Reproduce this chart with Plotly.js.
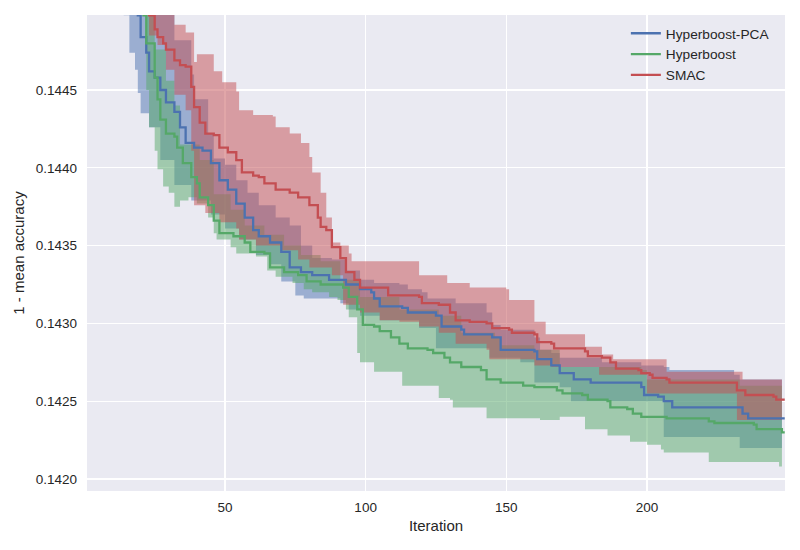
<!DOCTYPE html>
<html>
<head>
<meta charset="utf-8">
<script src="https://cdn.plot.ly/plotly-3.0.1.min.js"></script>
<style>html,body{margin:0;padding:0;background:#fff;}#chart{width:800px;height:550px;}</style>
</head>
<body>
<div id="chart"></div>
<script>
// ---- Mean curves (step-post) ----
const pcaX = [12,19,20,22,23,25,27,29,32,34,36,39,42,45,48,51,54,57,60,62,66,70,73,77,81,87,93,98,102,103,105,113,115,125,127,134,135,145,148,160,161,166,169,174,180,193,198,199,204,206,209,232,234,236,249];
const pcaY = [0.14530,0.14498,0.14484,0.14474,0.14462,0.14458,0.14450,0.14442,0.14436,0.14426,0.14416,0.14413,0.14411,0.14403,0.14392,0.14386,0.14377,0.14368,0.14360,0.14356,0.14352,0.14346,0.14336,0.14333,0.14331,0.14328,0.14325,0.14322,0.14320,0.14316,0.14311,0.14310,0.14307,0.14305,0.14298,0.14296,0.14293,0.14291,0.14283,0.14282,0.14277,0.14273,0.14268,0.14264,0.14262,0.14262,0.14259,0.14254,0.14253,0.14250,0.14246,0.14246,0.14242,0.14239,0.14239];

const hbX = [12,21,22,25,26,27,29,32,33,35,38,40,41,44,46,48,53,57,59,64,66,71,76,79,84,92,94,97,99,103,105,109,112,115,122,124,128,130,134,141,143,148,156,160,165,168,170,177,179,186,187,193,195,198,207,222,224,238,239,248,249];
const hbY = [0.14530,0.14498,0.14480,0.14458,0.14444,0.14431,0.14422,0.14420,0.14413,0.14403,0.14394,0.14390,0.14381,0.14376,0.14366,0.14358,0.14356,0.14352,0.14346,0.14345,0.14336,0.14333,0.14331,0.14327,0.14325,0.14323,0.14317,0.14309,0.14299,0.14298,0.14295,0.14291,0.14287,0.14284,0.14283,0.14281,0.14278,0.14275,0.14272,0.14270,0.14264,0.14262,0.14260,0.14259,0.14259,0.14257,0.14255,0.14254,0.14251,0.14250,0.14246,0.14245,0.14242,0.14240,0.14239,0.14237,0.14236,0.14235,0.14232,0.14230,0.14230];

const smacX = [12,23,25,26,28,29,32,34,36,38,39,41,43,46,48,51,54,56,60,62,64,68,73,76,80,83,84,86,88,91,93,96,98,108,119,120,126,130,132,137,143,145,151,152,160,161,166,167,178,179,184,187,189,197,198,201,202,207,208,232,235,245,246,249];
const smacY = [0.14530,0.14498,0.14489,0.14484,0.14480,0.14476,0.14469,0.14466,0.14465,0.14452,0.14439,0.14429,0.14422,0.14421,0.14413,0.14410,0.14405,0.14397,0.14395,0.14394,0.14390,0.14386,0.14384,0.14381,0.14376,0.14368,0.14362,0.14360,0.14349,0.14342,0.14333,0.14328,0.14323,0.14318,0.14317,0.14313,0.14312,0.14307,0.14302,0.14301,0.14300,0.14297,0.14296,0.14294,0.14293,0.14288,0.14287,0.14284,0.14282,0.14279,0.14278,0.14275,0.14271,0.14270,0.14268,0.14267,0.14265,0.14264,0.14262,0.14257,0.14254,0.14253,0.14251,0.14251];

// ---- Band edges ----
const pcaUpX = [12,32,38,39,44,46,50,54,58,62,68,73,77,81,88,93,98,103,112,115,120,122,132,143,145,148,160,162,166,169,184,198,206,208,231,233,248];
const pcaUpY = [0.14530,0.14482,0.14460,0.14444,0.14422,0.14406,0.14402,0.14392,0.14384,0.14376,0.14368,0.14363,0.14350,0.14342,0.14341,0.14334,0.14328,0.14326,0.14325,0.14322,0.14320,0.14316,0.14313,0.14307,0.14299,0.14296,0.14291,0.14283,0.14281,0.14278,0.14275,0.14273,0.14272,0.14270,0.14267,0.14264,0.14264];
const pcaLoX = [12,14,16,18,19,20,23,27,32,38,45,50,55,61,66,70,75,78,91,94,98,105,119,125,144,155,160,169,173,206,233,248];
const pcaLoY = [0.14530,0.14498,0.14474,0.14463,0.14448,0.14435,0.14426,0.14405,0.14389,0.14379,0.14370,0.14361,0.14354,0.14344,0.14338,0.14327,0.14318,0.14316,0.14313,0.14309,0.14305,0.14302,0.14297,0.14284,0.14278,0.14275,0.14262,0.14259,0.14250,0.14227,0.14220,0.14220];

const hbUpX = [12,22,25,29,32,34,41,46,52,57,64,71,77,84,91,98,112,126,134,146,148,160,169,198,200,233,248];
const hbUpY = [0.14530,0.14498,0.14476,0.14456,0.14440,0.14415,0.14405,0.14383,0.14373,0.14363,0.14357,0.14350,0.14344,0.14340,0.14328,0.14317,0.14309,0.14305,0.14294,0.14291,0.14286,0.14283,0.14272,0.14270,0.14264,0.14260,0.14257];
const hbLoX = [12,21,22,23,25,26,28,30,32,34,37,40,44,46,47,52,54,61,65,68,74,78,81,87,90,93,94,97,98,103,113,126,130,131,143,162,169,178,186,194,200,205,206,222,247,248];
const hbLoY = [0.14530,0.14498,0.14450,0.14426,0.14411,0.14399,0.14388,0.14384,0.14375,0.14379,0.14381,0.14377,0.14368,0.14358,0.14354,0.14349,0.14345,0.14343,0.14334,0.14330,0.14326,0.14322,0.14320,0.14317,0.14315,0.14309,0.14304,0.14281,0.14275,0.14269,0.14260,0.14252,0.14251,0.14246,0.14239,0.14238,0.14240,0.14232,0.14228,0.14224,0.14222,0.14219,0.14217,0.14211,0.14208,0.14208];

const smacUpX = [12,32,36,39,40,46,49,54,55,60,67,68,73,77,80,81,84,86,88,91,94,95,119,129,137,150,151,160,164,178,184,188,207,234,248];
const smacUpY = [0.14530,0.14492,0.14487,0.14468,0.14473,0.14462,0.14455,0.14449,0.14437,0.14434,0.14433,0.14426,0.14422,0.14416,0.14407,0.14397,0.14384,0.14368,0.14352,0.14350,0.14345,0.14340,0.14331,0.14326,0.14323,0.14322,0.14315,0.14301,0.14293,0.14285,0.14280,0.14277,0.14269,0.14264,0.14265];
const smacLoX = [12,22,23,26,29,32,36,38,39,43,48,54,55,61,70,76,80,88,92,98,105,112,119,126,132,143,144,160,166,183,200,232,248];
const smacLoY = [0.14530,0.14498,0.14485,0.14479,0.14463,0.14447,0.14437,0.14411,0.14376,0.14371,0.14365,0.14361,0.14354,0.14350,0.14347,0.14341,0.14336,0.14331,0.14312,0.14307,0.14302,0.14301,0.14298,0.14294,0.14287,0.14283,0.14277,0.14273,0.14272,0.14267,0.14255,0.14238,0.14238];

const seriesNames = ['Hyperboost-PCA', 'Hyperboost', 'SMAC'];
const yTickVals = [0.1420, 0.1425, 0.1430, 0.1435, 0.1440, 0.1445];
const xTickVals = [50, 100, 150, 200];

const colors = ['#4C72B0', '#55A868', '#C44E52'];
const fills = ['rgba(76,114,176,0.5)', 'rgba(85,168,104,0.5)', 'rgba(196,78,82,0.5)'];

const means = [[pcaX, pcaY], [hbX, hbY], [smacX, smacY]];
const bands = [[pcaLoX, pcaLoY, pcaUpX, pcaUpY], [hbLoX, hbLoY, hbUpX, hbUpY], [smacLoX, smacLoY, smacUpX, smacUpY]];

const traces = [];
for (let i = 0; i < 3; i++) {
  const b = bands[i];
  traces.push({x: b[0], y: b[1], type: 'scatter', mode: 'lines', line: {width: 0, shape: 'hv', color: fills[i]}, showlegend: false, hoverinfo: 'skip'});
  traces.push({x: b[2], y: b[3], type: 'scatter', mode: 'lines', line: {width: 0, shape: 'hv', color: fills[i]}, fill: 'tonexty', fillcolor: fills[i], showlegend: false, hoverinfo: 'skip'});
}
for (let i = 0; i < 3; i++) {
  traces.push({x: means[i][0], y: means[i][1], type: 'scatter', mode: 'lines', name: seriesNames[i], line: {color: colors[i], width: 2.3, shape: 'hv'}});
}

const font = {family: '"Liberation Sans", Arial, sans-serif', color: '#262626'};
const layout = {
  width: 800, height: 550,
  margin: {l: 87, r: 15, t: 15, b: 59},
  paper_bgcolor: '#ffffff',
  plot_bgcolor: '#EAEAF2',
  font: Object.assign({size: 13.5}, font),
  showlegend: true,
  legend: {x: 0.772, xanchor: 'left', y: 0.994, yanchor: 'top', bgcolor: 'rgba(0,0,0,0)', traceorder: 'normal', font: Object.assign({size: 13.7}, font), tracegroupgap: 0},
  xaxis: {
    range: [0.93, 249.1], tickvals: xTickVals, ticktext: xTickVals.map(String),
    showgrid: true, gridcolor: '#ffffff', gridwidth: 1.3, zeroline: false, showline: false, ticks: '',
    ticklabelstandoff: 6,
    tickfont: Object.assign({size: 13.5}, font),
    title: {text: 'Iteration', font: Object.assign({size: 15}, font), standoff: 6}
  },
  yaxis: {
    range: [0.141923, 0.144982], tickvals: yTickVals, ticktext: yTickVals.map(v => v.toFixed(4)),
    showgrid: true, gridcolor: '#ffffff', gridwidth: 1.3, zeroline: false, showline: false, ticks: '',
    ticklabelstandoff: 9,
    tickfont: Object.assign({size: 13.5}, font),
    title: {text: '1 - mean accuracy', font: Object.assign({size: 15}, font), standoff: 7}
  }
};

Plotly.newPlot('chart', traces, layout, {staticPlot: true, displayModeBar: false});
</script>
</body>
</html>
